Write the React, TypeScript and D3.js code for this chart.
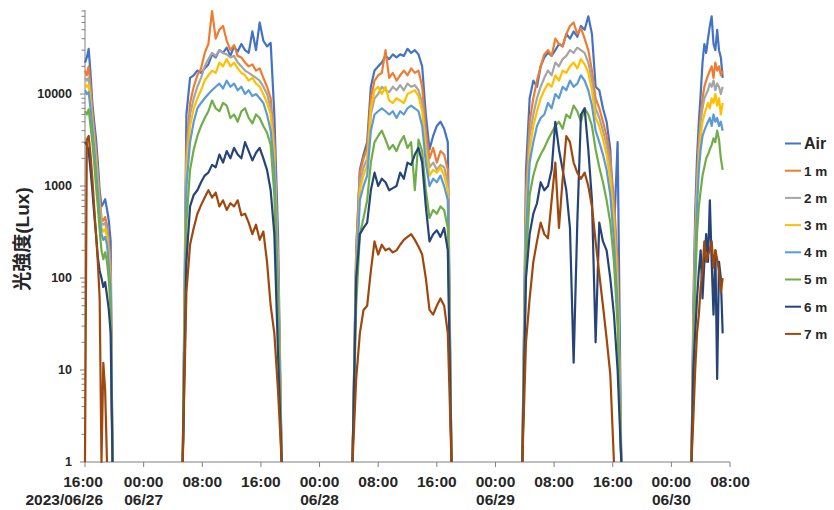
import React, { useEffect, useRef } from "react";
import * as d3 from "d3";

// Each day is a run of readings, taken every step minutes from its start time
const segmentStarts = [
  "2023-06-26 16:00",
  "2023-06-27 05:20",
  "2023-06-28 04:30",
  "2023-06-29 03:40",
  "2023-06-30 02:45",
];
const segmentSteps = [15, 30, 30, 30, 15];

const seriesNames = ["Air", "1 m", "2 m", "3 m", "4 m", "5 m", "6 m", "7 m"];
const seriesColors = ["#4472C4", "#ED7D31", "#A5A5A5", "#FFC000", "#5B9BD5", "#70AD47", "#264478", "#9E480E"];

const airLux = [
  [22000, 25000, 31000, 17000, 8000, 5000, 3300, 1800, 900, 600, 650, 720, 560, 420, 250, 1],
  [1, 6000, 15000, 16000, 18000, 17000, 19000, 21000, 27000, 25000, 30000, 28000, 32000, 26000, 33000, 29000, 35000, 30000, 28000, 48000, 30000, 60000, 38000, 33000, 36000, 6000, 300, 1],
  [1, 200, 1500, 2200, 3000, 12000, 18000, 20000, 22000, 26000, 24000, 27000, 25000, 27000, 26000, 31000, 28000, 30000, 27000, 20000, 6000, 2500, 3500, 4500, 5000, 4200, 3000, 1],
  [1, 1500, 9000, 14000, 12000, 20000, 25000, 28000, 26000, 30000, 35000, 33000, 45000, 40000, 48000, 42000, 55000, 50000, 70000, 45000, 12000, 11000, 7000, 5000, 2500, 300, 3000, 1],
  [1, 50, 500, 2000, 5000, 10000, 22000, 35000, 28000, 40000, 55000, 70000, 35000, 30000, 50000, 30000, 25000, 15000],
];
const lux1m = [
  [18000, 16000, 20000, 12000, 6500, 4000, 2500, 1400, 750, 450, 420, 460, 380, 250, 140, 1],
  [1, 2500, 8000, 12000, 16000, 19000, 28000, 35000, 80000, 40000, 50000, 55000, 38000, 30000, 34000, 26000, 25000, 22000, 20000, 21000, 18000, 19000, 15000, 12000, 9000, 3000, 150, 1],
  [1, 200, 1400, 2000, 2600, 9000, 14000, 16000, 17000, 30000, 15000, 17000, 14000, 16000, 18000, 16000, 19000, 17000, 18000, 12000, 4000, 2000, 2600, 1800, 2400, 2200, 1500, 1],
  [1, 800, 5000, 9000, 14000, 20000, 27000, 30000, 26000, 40000, 35000, 33000, 45000, 55000, 60000, 45000, 52000, 40000, 30000, 18000, 9000, 7000, 5000, 3500, 2000, 700, 150, 1],
  [1, 30, 300, 1200, 3000, 6000, 9000, 12000, 14000, 16000, 18000, 20000, 15000, 22000, 18000, 20000, 16000, 18000],
];
const lux2m = [
  [15000, 14000, 15000, 10000, 5500, 3500, 2100, 1200, 650, 400, 380, 400, 330, 210, 110, 1],
  [1, 2000, 6000, 9000, 12000, 15000, 20000, 24000, 28000, 26000, 30000, 28000, 27000, 25000, 26000, 22000, 20000, 18000, 17000, 16000, 15000, 14000, 12000, 10000, 7000, 2500, 120, 1],
  [1, 150, 1100, 1600, 2000, 6000, 9000, 10000, 12000, 11000, 10500, 12000, 11000, 12500, 11000, 13000, 12000, 12500, 11000, 8000, 3000, 1600, 1800, 1500, 1700, 1600, 1100, 1],
  [1, 600, 3500, 6000, 9000, 12000, 15000, 18000, 16000, 22000, 20000, 24000, 26000, 30000, 28000, 32000, 30000, 28000, 22000, 14000, 7000, 5500, 4000, 2800, 1600, 500, 100, 1],
  [1, 25, 250, 1000, 2500, 5000, 7000, 9000, 10000, 11000, 13000, 12000, 14000, 11000, 13000, 12000, 10000, 12000],
];
const lux3m = [
  [13000, 12000, 12500, 8500, 4800, 3000, 1800, 1000, 580, 350, 320, 340, 280, 170, 90, 1],
  [1, 1500, 4500, 7000, 9000, 11000, 14000, 16000, 18000, 17000, 22000, 20000, 24000, 20000, 22000, 19000, 17000, 16000, 14000, 15000, 13000, 12000, 10000, 8000, 6000, 2000, 100, 1],
  [1, 120, 900, 1300, 1700, 7000, 11000, 12000, 10000, 12000, 8500, 8000, 9000, 8500, 8000, 10000, 10500, 11000, 9500, 6500, 2500, 1300, 1500, 1400, 1600, 1300, 900, 1],
  [1, 400, 2500, 4500, 6500, 9000, 11000, 13000, 12000, 16000, 14000, 18000, 17000, 20000, 22000, 19000, 24000, 21000, 17000, 11000, 5500, 4500, 3200, 2200, 1200, 400, 80, 1],
  [1, 20, 200, 800, 2000, 3500, 5000, 6000, 7000, 8000, 7000, 9000, 8000, 10000, 7500, 9000, 6000, 8000],
];
const lux4m = [
  [11000, 10000, 10500, 7000, 4200, 2600, 1500, 850, 480, 300, 260, 280, 230, 140, 75, 1],
  [1, 1000, 3000, 5000, 7000, 8000, 9000, 10000, 11000, 12000, 13000, 11500, 14000, 12000, 13000, 11000, 12000, 10000, 11000, 9500, 10000, 9000, 8000, 6000, 4000, 1500, 80, 1],
  [1, 100, 700, 1000, 1300, 4000, 6000, 6500, 7000, 6500, 6000, 6500, 5500, 6500, 6000, 7000, 7500, 7000, 6500, 4500, 1800, 1000, 1200, 1100, 1300, 1000, 700, 1],
  [1, 300, 1800, 3000, 4500, 5500, 6000, 8000, 7000, 10000, 9000, 12000, 11000, 14000, 12000, 13000, 16000, 14000, 11000, 7500, 4000, 3000, 2200, 1500, 800, 250, 50, 1],
  [1, 15, 150, 600, 1500, 2500, 3500, 4000, 4500, 5000, 5500, 4500, 6000, 5000, 5500, 4500, 5000, 4000],
];
const lux5m = [
  [6500, 6000, 6800, 4500, 3000, 1800, 1000, 600, 330, 200, 160, 190, 150, 95, 45, 1],
  [1, 400, 1500, 2500, 3500, 4500, 5500, 6500, 8500, 7000, 6500, 8000, 7500, 5500, 6000, 5000, 6500, 7000, 5500, 4800, 6000, 5500, 4500, 3800, 2800, 800, 40, 1],
  [1, 50, 300, 450, 700, 1800, 3000, 3500, 4000, 3200, 2500, 2800, 2400, 3000, 3500, 2600, 3000, 900, 3200, 2400, 900, 450, 550, 500, 600, 550, 350, 1],
  [1, 150, 800, 1300, 1800, 2200, 2600, 3200, 3800, 4500, 5000, 4200, 6000, 5500, 7500, 6500, 5000, 7000, 6000, 4500, 2500, 1600, 1100, 700, 400, 150, 30, 1],
  [1, 10, 80, 300, 600, 900, 1300, 1600, 2000, 2200, 2500, 2800, 3300, 3000, 4000, 3200, 2000, 1500],
];
const lux6m = [
  [3000, 2800, 2400, 1500, 900, 500, 300, 170, 120, 100, 80, 90, 65, 45, 25, 1],
  [1, 150, 600, 800, 900, 1100, 1300, 1400, 1700, 1600, 2200, 1800, 2400, 2000, 2600, 2200, 2000, 3000, 2400, 1900, 2300, 2600, 2000, 1500, 900, 300, 15, 1],
  [1, 100, 300, 350, 400, 900, 1400, 1000, 1200, 1100, 900, 950, 1000, 1400, 1200, 1800, 1700, 2200, 2600, 1800, 600, 250, 300, 330, 280, 350, 200, 1],
  [1, 100, 300, 500, 650, 1100, 900, 1000, 1500, 5000, 2500, 1500, 900, 350, 12, 400, 6000, 7000, 2500, 700, 20, 400, 250, 200, 100, 40, 10, 1],
  [1, 10, 25, 60, 120, 200, 60, 150, 300, 150, 700, 150, 40, 200, 8, 150, 100, 25],
];
const lux7m = [
  [1, 3200, 3500, 2200, 1200, 600, 300, 150, 60, 1, 12, 6, 1],
  [1, 70, 230, 350, 500, 620, 750, 900, 750, 850, 600, 700, 550, 650, 600, 700, 480, 500, 400, 300, 380, 260, 320, 150, 50, 25, 6, 1],
  [1, 8, 25, 45, 50, 120, 250, 180, 230, 200, 210, 190, 200, 230, 260, 280, 300, 260, 220, 180, 100, 45, 40, 50, 60, 50, 25, 1],
  [1, 20, 60, 150, 250, 400, 300, 270, 700, 1800, 350, 1200, 3500, 3000, 1800, 1400, 1200, 1400, 1000, 600, 250, 110, 50, 22, 9, 1],
  [1, 3, 10, 25, 40, 80, 120, 250, 150, 180, 200, 250, 130, 200, 160, 120, 70, 100],
];
const seriesLux = [airLux, lux1m, lux2m, lux3m, lux4m, lux5m, lux6m, lux7m];

const xTickTimes = [
  "2023-06-26 16:00", "2023-06-27 00:00", "2023-06-27 08:00", "2023-06-27 16:00",
  "2023-06-28 00:00", "2023-06-28 08:00", "2023-06-28 16:00", "2023-06-29 00:00",
  "2023-06-29 08:00", "2023-06-29 16:00", "2023-06-30 00:00", "2023-06-30 08:00",
];
const xTickHours = ["16:00", "00:00", "08:00", "16:00", "00:00", "08:00", "16:00", "00:00", "08:00", "16:00", "00:00", "08:00"];
const xTickDates = ["2023/06/26", "06/27", "", "", "06/28", "", "", "06/29", "", "", "06/30", ""];
const yTicks = [1, 10, 100, 1000, 10000];

const width = 834;
const height = 510;
const font = "'Liberation Sans', Arial, 'Noto Sans CJK JP', sans-serif";
const textColor = "#262626";
const axisColor = "#808080";

const parse = d3.timeParse("%Y-%m-%d %H:%M");

const drawChart = (svgEl: SVGSVGElement) => {
  const svg = d3.select(svgEl);
  svg.selectAll("*").remove();

  const x = d3
    .scaleTime()
    .domain([parse("2023-06-26 16:00")!, parse("2023-06-30 08:00")!])
    .range([85, 730]);
  const y = d3.scaleLog().domain([1, 82000]).range([462, 10]);

  // axes
  const [y0, y1] = y.range();
  svg
    .append("line")
    .attr("x1", 85).attr("x2", 85).attr("y1", y0).attr("y2", y1)
    .attr("stroke", axisColor);
  // minor ticks 2..9 in each decade
  const minor: number[] = [];
  for (let d = 1; d <= 10000; d *= 10) {
    for (let k = 2; k <= 9; k++) if (d * k <= 82000) minor.push(d * k);
  }
  svg
    .selectAll("line.minor")
    .data(minor)
    .enter()
    .append("line")
    .attr("class", "minor")
    .attr("x1", 81.5).attr("x2", 85)
    .attr("y1", (d) => y(d)).attr("y2", (d) => y(d))
    .attr("stroke", axisColor);
  svg
    .selectAll("line.major")
    .data(yTicks)
    .enter()
    .append("line")
    .attr("class", "major")
    .attr("x1", 80).attr("x2", 85)
    .attr("y1", (d) => y(d)).attr("y2", (d) => y(d))
    .attr("stroke", axisColor);
  svg
    .selectAll("text.ytick")
    .data(yTicks)
    .enter()
    .append("text")
    .attr("class", "ytick")
    .attr("x", 72)
    .attr("y", (d) => y(d))
    .attr("dy", "0.35em")
    .attr("text-anchor", "end")
    .style("font-family", font)
    .style("font-size", "12.5px")
    .style("font-weight", "bold")
    .attr("fill", textColor)
    .text((d) => String(d));

  svg
    .append("line")
    .attr("x1", 85).attr("x2", 730).attr("y1", y0).attr("y2", y0)
    .attr("stroke", axisColor);
  const ticks = xTickTimes.map((t, i) => ({ t: parse(t)!, hour: xTickHours[i], date: xTickDates[i], first: i === 0 }));
  svg
    .selectAll("line.xtick")
    .data(ticks)
    .enter()
    .append("line")
    .attr("class", "xtick")
    .attr("x1", (d) => x(d.t)).attr("x2", (d) => x(d.t))
    .attr("y1", y0).attr("y2", y0 + 5)
    .attr("stroke", axisColor);
  const xl = svg
    .selectAll("g.xlabel")
    .data(ticks)
    .enter()
    .append("g")
    .attr("class", "xlabel")
    .attr("transform", (d) => `translate(${x(d.t)},0)`)
    .style("font-family", font)
    .style("font-size", "15.5px")
    .style("font-weight", "bold")
    .attr("fill", textColor)
    .attr("text-anchor", "middle");
  xl.append("text").attr("x", (d) => (d.first ? -2 : 0)).attr("y", 487).text((d) => d.hour);
  // the first date line is long, so it sits flush right with its hour label
  xl.append("text")
    .attr("x", (d) => (d.first ? 18 : 0))
    .attr("text-anchor", (d) => (d.first ? "end" : "middle"))
    .attr("y", 505)
    .text((d) => d.date);

  // y axis title
  svg
    .append("text")
    .attr("transform", "translate(22,239) rotate(-90)")
    .attr("text-anchor", "middle")
    .attr("dy", "0.36em")
    .style("font-family", font)
    .style("font-size", "19px")
    .style("font-weight", "bold")
    .attr("fill", textColor)
    .text("光強度(Lux)");

  // series lines, Air first so 7 m ends up on top
  const line = d3
    .line<[Date, number]>()
    .x((d) => x(d[0]))
    .y((d) => y(d[1]));

  seriesLux.forEach((days, s) => {
    days.forEach((values, d) => {
      const start = parse(segmentStarts[d])!;
      const pts = values.map(
        (v, i) => [d3.timeMinute.offset(start, segmentSteps[d] * i), v] as [Date, number]
      );
      svg
        .append("path")
        .attr("d", line(pts))
        .attr("fill", "none")
        .attr("stroke", seriesColors[s])
        .attr("stroke-width", 2.2)
        .attr("stroke-linejoin", "round");
    });
  });

  // legend
  const leg = svg
    .selectAll("g.legend")
    .data(seriesNames)
    .enter()
    .append("g")
    .attr("class", "legend")
    .attr("transform", (d, i) => `translate(785,${143.5 + i * 27.2})`);
  leg
    .append("line")
    .attr("x1", 0).attr("x2", 16)
    .attr("stroke", (d, i) => seriesColors[i])
    .attr("stroke-width", 2);
  leg
    .append("text")
    .attr("x", 19)
    .attr("dy", "0.36em")
    .style("font-family", font)
    .style("font-size", (d, i) => (i === 0 ? "16px" : "13.5px"))
    .style("font-weight", "bold")
    .attr("fill", textColor)
    .text((d) => d);
};

const App = () => {
  const svgRef = useRef<SVGSVGElement>(null);

  useEffect(() => {
    if (svgRef.current) drawChart(svgRef.current);
  }, []);

  return (
    <svg
      ref={svgRef}
      width={width}
      height={height}
      style={{ position: "absolute", left: 0, top: 0, background: "#fff" }}
    ></svg>
  );
};

export default App;
